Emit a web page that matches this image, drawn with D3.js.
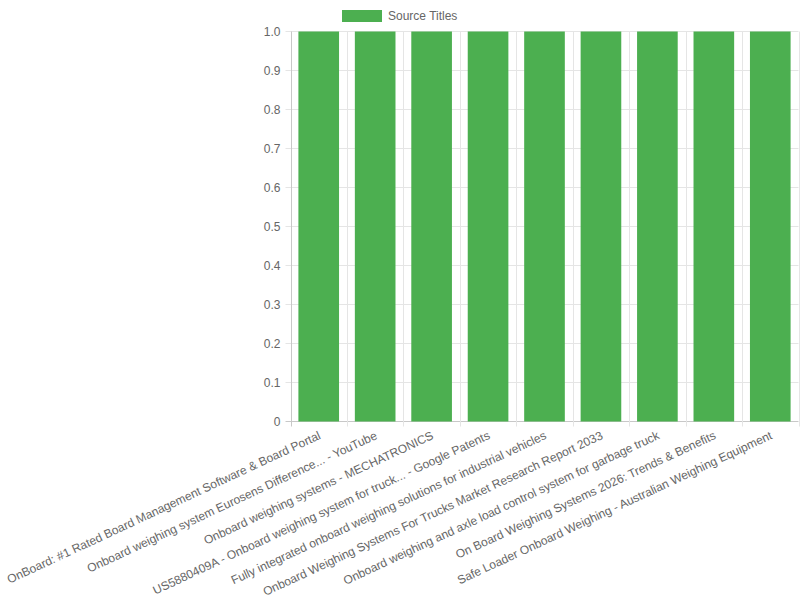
<!DOCTYPE html>
<html><head><meta charset="utf-8">
<script src="https://cdn.jsdelivr.net/npm/d3@7"></script>
<style>body{margin:0;background:#fff}svg{display:block}text{font-family:"Liberation Sans",Arial,Helvetica,sans-serif}</style>
</head><body><svg id="c" width="800" height="600"></svg>
<script>
const categories = [
  "OnBoard: #1 Rated Board Management Software & Board Portal",
  "Onboard weighing system Eurosens Difference... - YouTube",
  "Onboard weighing systems - MECHATRONICS",
  "US5880409A - Onboard weighing system for truck... - Google Patents",
  "Fully integrated onboard weighing solutions for industrial vehicles",
  "Onboard Weighing Systems For Trucks Market Research Report 2033",
  "Onboard weighing and axle load control system for garbage truck",
  "On Board Weighing Systems 2026: Trends & Benefits",
  "Safe Loader Onboard Weighing - Australian Weighing Equipment"
];
const values = [1, 1, 1, 1, 1, 1, 1, 1, 1];
const yTicks = [0, 0.1, 0.2, 0.3, 0.4, 0.5, 0.6, 0.7, 0.8, 0.9, 1.0];
const seriesName = "Source Titles";

(function () {
const svg = d3.select("#c");
const pLeft = 290.5, pRight = 798.5, pTop = 31.5, pBottom = 421.5;
const grid = "#e5e5e5", txt = "#666", green = "#4caf50";

const x = d3.scaleBand().domain(categories).range([pLeft, pRight]).paddingInner(0).paddingOuter(0);
const y = d3.scaleLinear().domain([0, 1]).range([pBottom, pTop]);

const gy = svg.append("g");
yTicks.forEach(t => {
  gy.append("line").attr("x1", pLeft - 5).attr("x2", pRight).attr("y1", y(t)).attr("y2", y(t))
    .attr("stroke", t === 0 ? "#c8c8c8" : grid);
  gy.append("text").attr("x", pLeft - 10).attr("y", y(t)).attr("dy", "0.35em")
    .attr("text-anchor", "end").attr("font-size", 12).attr("fill", txt)
    .text(t === 0 ? "0" : d3.format(".1f")(t));
});
const gx = svg.append("g");
const bounds = categories.map(c => x(c)).concat([pRight]);
bounds.forEach((b, i) => {
  gx.append("line").attr("x1", Math.round(b) + 0.5).attr("x2", Math.round(b) + 0.5)
    .attr("y1", pTop).attr("y2", pBottom + 5).attr("stroke", i === 0 ? "#c8c8c8" : grid);
});

const bw = x.bandwidth() * 0.72;
svg.append("g").selectAll("rect").data(values).join("rect")
  .attr("x", (d, i) => x(categories[i]) + (x.bandwidth() - bw) / 2)
  .attr("width", bw)
  .attr("y", d => y(d))
  .attr("height", d => y(0) - y(d))
  .attr("fill", green);

svg.append("g").selectAll("text").data(categories).join("text")
  .attr("transform", d => `translate(${x(d) + x.bandwidth() / 2 + 1},${pBottom + 13}) rotate(-25)`)
  .attr("text-anchor", "end").attr("dy", "0.35em")
  .attr("font-size", 12).attr("fill", txt).text(d => d);

const lg = svg.append("g");
lg.append("rect").attr("x", 342).attr("y", 10).attr("width", 40).attr("height", 12).attr("fill", green);
lg.append("text").attr("x", 388).attr("y", 16).attr("dy", "0.35em").attr("font-size", 12)
  .attr("fill", txt).text(seriesName);
})();
</script></body></html>
